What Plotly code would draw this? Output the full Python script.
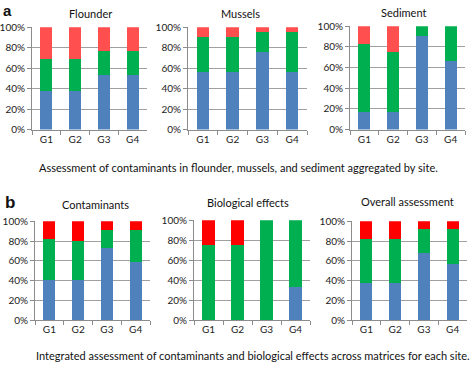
import plotly.graph_objects as go

W, H = 474, 367

sites = ["G1", "G2", "G3", "G4"]
y_ticks = [0, 20, 40, 60, 80, 100]
y_tick_labels = ["0%", "20%", "40%", "60%", "80%", "100%"]

# Panel a
flounder_blue = [37.5, 37.5, 53, 53]
flounder_green = [31, 31, 24, 24]
flounder_red = [31.5, 31.5, 23, 23]

mussels_blue = [56, 56, 76, 56]
mussels_green = [34, 34, 19, 39]
mussels_red = [10, 10, 5, 5]

sediment_blue = [16.7, 16.7, 91, 66]
sediment_green = [66.6, 58.3, 9, 34]
sediment_red = [16.7, 25, 0, 0]

# Panel b
contam_blue = [41, 41, 73, 59]
contam_green = [41, 39, 18, 32]
contam_red = [18, 20, 9, 9]

bio_blue = [0, 0, 0, 33]
bio_green = [75, 75, 100, 67]
bio_red = [25, 25, 0, 0]

overall_blue = [38, 38, 68, 57]
overall_green = [44, 44, 24, 35]
overall_red = [18, 18, 8, 8]

titles = ["Flounder", "Mussels", "Sediment",
          "Contaminants", "Biological effects", "Overall assessment"]
title_pos = [(90, 7), (240, 7), (403, 6), (95, 205), (248, 203), (407, 202)]
caption_a = "Assessment of contaminants in flounder, mussels, and sediment aggregated by site."
caption_b = "Integrated assessment of contaminants and biological effects across matrices for each site."

BLUE = "#4F81BD"
GREEN = "#00B050"
RED_A = "#FF4F4F"
RED_B = "#FF0000"

panels = [
    (flounder_blue, flounder_green, flounder_red, RED_A, (32, 147, 21, 127)),
    (mussels_blue, mussels_green, mussels_red, RED_A, (188, 307, 21, 127)),
    (sediment_blue, sediment_green, sediment_red, RED_A, (350, 465, 20, 127)),
    (contam_blue, contam_green, contam_red, RED_B, (35, 150, 222, 325)),
    (bio_blue, bio_green, bio_red, RED_B, (194, 310, 221, 325)),
    (overall_blue, overall_green, overall_red, RED_B, (352, 467, 222, 325)),
]

FONT = "Lato, Open Sans, sans-serif"
fig = go.Figure()
layout = {}
annotations = []

for i, (b, g, r, rc, (x0, x1, yt, yb)) in enumerate(panels):
    n = "" if i == 0 else str(i + 1)
    xa, ya = "x" + n, "y" + n
    for vals, col in ((b, BLUE), (g, GREEN), (r, rc)):
        fig.add_trace(go.Bar(x=sites, y=vals, marker=dict(color=col, line=dict(width=0)),
                             xaxis=xa, yaxis=ya, showlegend=False, width=0.42))
    layout["xaxis" + n] = dict(
        domain=[x0 / W, x1 / W], anchor=ya, type="category",
        showline=True, linecolor="#8C8C8C", linewidth=1,
        ticks="outside", tickson="boundaries", ticklen=4, tickcolor="#8C8C8C",
        tickfont=dict(family=FONT, size=10, color="#222"), showgrid=False,
        fixedrange=True,
    )
    layout["yaxis" + n] = dict(
        domain=[1 - yb / H, 1 - yt / H], anchor=xa, range=[0, 100],
        tickvals=y_ticks, ticktext=y_tick_labels,
        showline=True, linecolor="#8C8C8C", linewidth=1,
        ticks="outside", ticklen=4, tickcolor="#8C8C8C",
        showgrid=True, gridcolor="#A0A0A0", gridwidth=1,
        tickfont=dict(family=FONT, size=10, color="#222"),
        zeroline=False, fixedrange=True,
    )
    tx, ty = title_pos[i]
    annotations.append(dict(
        text=titles[i], x=tx / W, y=1 - ty / H,
        xref="paper", yref="paper", showarrow=False,
        font=dict(family=FONT, size=11, color="#111"),
        xanchor="center", yanchor="middle",
    ))

annotations += [
    dict(text="<b>a</b>", x=8 / W, y=1 - 4 / H, xref="paper", yref="paper",
         showarrow=False, font=dict(family="Liberation Sans, Arial", size=15, color="#111"),
         xanchor="center", yanchor="middle"),
    dict(text="<b>b</b>", x=10 / W, y=1 - 203 / H, xref="paper", yref="paper",
         showarrow=False, font=dict(family="Liberation Sans, Arial", size=17, color="#111"),
         xanchor="center", yanchor="middle"),
    dict(text=caption_a, x=238 / W, y=1 - 166 / H, xref="paper", yref="paper",
         showarrow=False, font=dict(family=FONT, size=11, color="#111"),
         xanchor="center", yanchor="middle"),
    dict(text=caption_b, x=253 / W, y=1 - 361 / H, xref="paper", yref="paper",
         showarrow=False, font=dict(family=FONT, size=11, color="#111"),
         xanchor="center", yanchor="middle"),
]

fig.update_layout(
    width=W, height=H, margin=dict(l=0, r=0, t=0, b=0),
    paper_bgcolor="white", plot_bgcolor="white",
    barmode="stack", annotations=annotations, showlegend=False,
    **layout,
)

fig.write_html(
    "out.html",
    config={"displayModeBar": False},
    post_script="document.body.style.margin='0';document.body.style.overflow='hidden';",
)
